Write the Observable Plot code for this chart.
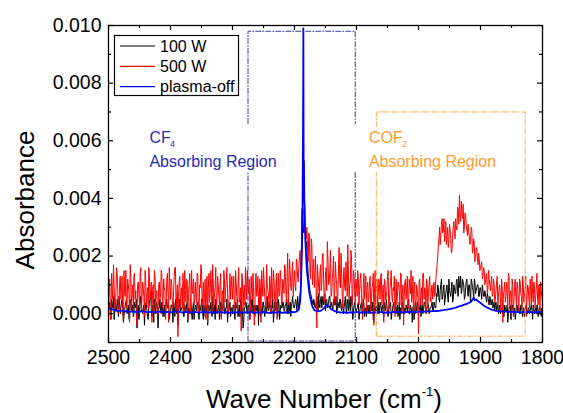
<!DOCTYPE html>
<html><head><meta charset="utf-8">
<script src="https://cdn.jsdelivr.net/npm/d3@7"></script>
<script src="https://cdn.jsdelivr.net/npm/@observablehq/plot@0.6"></script>
<style>body{margin:0;background:#fff;} #chart{width:563px;height:413px;}</style>
</head><body><div id="chart"></div>
<script>
// Sampling grids of the 100 W / 500 W spectra (cm^-1): even points from 2500, odd points from 2499, step 2
const gridStep = 2, evenStart = 2500, oddStart = 2499;
// 500 W absorbance at 2500, 2498, ... 1800 (units of 1e-4)
const abs500W = [
 3, 12, -1, 9, 17, 2, 8, 14, 0, 11,
 5, 13, -2, 7, 15, 4, 10, -3, 12, 6,
 1, 14, 8, -4, 11, 3, 16, 5, 9, -1,
 12, 6, 2, 13, 7, -3, 10, 15, 4, 8,
 0, 11, 6, 14, 3, 9, -2, 12, 7, 16,
 5, 10, 2, 13, 16, 6, -8, 11, 3, 9,
 14, 1, 8, 12, -2, 10, 5, 15, 7, 3,
 11, 4, 13, 0, 9, 16, 6, 2, 12, 8,
 -3, 14, 7, 10, 17, 3, 9, 1, 13, 6,
 11, -2, 8, 15, 4, 12, 7, 0, 14, 9,
 5, 13, 2, 10, -1, 16, 6, -6, 12, 8,
 3, 11, 15, 7, -2, 13, 5, 9, 1, 14,
 8, 4, 12, -3, 10, 16, 6, 2, 11, 7,
 13, 0, 9, 15, 5, 10, -2, 14, 7, 12,
 4, 11, 17, 8, 13, 3, 19, 9, 14, 6,
 15, 8, 18, 11, 20, 14, 25, 34, 37, 28,
 30, 18, 27, 12, 24, 15, 9, 20, -5, 13,
 6, 17, 10, 21, 4, 14, 8, 19, 11, 22,
 7, 15, 3, 18, 10, 6, 23, 9, 14, 2,
 16, 8, 12, 24, 5, 11, 20, 7, 13, 4,
 10, 15, 3, 12, 7, -2, 14, 9, 1, 11,
 6, 13, 4, 10, -4, 15, 8, 2, 12, 5,
 14, 7, -3, 11, 6, 13, 1, 9, 15, 4,
 8, -1, 12, 6, 10, 3, 14, 7, -4, 11,
 5, 13, 2, 9, 15, 6, -2, 11, 4, 8,
 -7, 12, 6, 3, 14, 9, 0, 11, 7, 13,
 4, 10, 8, 6, 12, 17, 23, 30, 27, 33,
 29, 25, 32, 27, 23, 31, 26, 22, 30, 28,
 33, 29, 36, 41, 32, 35, 38, 30, 34, 29,
 31, 27, 25, 29, 22, 24, 20, 23, 17, 19,
 16, 18, 13, 15, 11, 14, 9, 12, 8, 13,
 7, 10, 5, 11, 3, 9, 6, 12, -3, 8,
 4, 11, 2, 13, 7, -2, 10, 5, 12, 3,
 9, 1, 11, 6, 13, 4, 8, -1, 10, 5,
 12, 3, 7, 11, 2, 9, 5, 10, 1, 8,
 4
];
// 500 W absorbance at 2499, 2497, ... 1801 (units of 1e-4)
const abs500Wodd = [
 8, -2, 14, 5, 10, 1, 16, 7, 3, 13,
 9, 0, 15, 6, 2, 12, 7, 17, 4, 10,
 13, 5, -2, 10, 7, 14, 1, 11, 6, 15,
 3, 9, 16, 5, 11, 8, 1, 13, 7, -1,
 10, 5, 15, 2, 12, 8, 4, 14, -3, 9,
 12, 3, 8, 16, 1, 10, 6, 13, 7, 2,
 9, 15, 4, 11, 7, 14, 0, 8, 12, 5,
 6, 14, 2, 10, 17, 3, 11, 7, -2, 13,
 9, 4, 15, 1, 11, 7, 16, 5, 10, 3,
 14, 6, 1, 12, 9, 16, 3, 10, 5, 13,
 8, 2, 15, 6, 11, 4, 9, 14, 1, 10,
 16, 5, 9, 12, 3, 8, 14, -4, 11, 6,
 13, 2, 9, 15, 6, 11, 4, 17, 8, 3,
 10, 16, 5, 12, 1, 14, 9, 6, 15, 3,
 12, 7, 16, 4, 21, 10, 15, 8, 18, 12,
 10, 19, 13, 16, 22, 17, 31, 36, 33, 26,
 22, 28, 14, 26, 10, 19, 13, 7, 17, 9,
 14, 8, 20, 12, 7, 16, 25, 10, 15, 6,
 12, 20, 8, 13, 4, 17, 11, 21, 6, 14,
 9, 18, 6, 13, 10, 22, 3, 15, 8, 12,
 6, 12, 8, 14, 2, 10, 5, 13, 9, 4,
 11, 1, 9, 14, 7, 3, 12, 6, 10, 13,
 3, 10, 12, 5, 8, 15, 4, 11, 6, 9,
 13, 5, 3, 11, 8, 14, 1, 10, 6, 12,
 9, 2, 12, 7, 4, 13, 8, 0, 10, 5,
 11, 3, 9, 14, 5, 8, 12, 2, 10, 6,
 9, 5, 11, 7, 14, 20, 26, 24, 31, 28,
 33, 27, 24, 30, 25, 29, 21, 27, 32, 26,
 30, 37, 31, 34, 39, 33, 28, 35, 31, 27,
 28, 24, 30, 21, 26, 18, 22, 19, 21, 15,
 17, 12, 16, 10, 13, 7, 15, 10, 11, 6,
 12, 4, 8, 13, 6, 10, 1, 9, 7, 11,
 6, 9, 14, 3, 8, 12, -1, 9, 6, 11,
 4, 12, 7, 2, 10, 7, 13, 5, 9, 2,
 8, 13, 4, 10, 6, 14, 3, 9, 11, 6
];
// 100 W absorbance at 2500, 2498, ... 1800 (units of 1e-4)
const abs100W = [
 1, 4, -2, 3, 6, 0, 2, 5, -1, 3,
 2, 5, -3, 1, 4, 0, 3, -2, 5, 1,
 -1, 4, 2, -5, 3, 0, 6, 1, 2, -4,
 3, 1, -2, 4, 8, -1, 2, 5, 0, 3,
 -5, 2, 1, 4, -1, 3, 0, 5, 2, -2,
 1, 3, -3, 2, 5, 0, -4, 3, 1, 2,
 4, -1, 2, 3, -3, 1, 5, 0, 2, -2,
 3, 1, 4, -2, 2, 5, 0, 3, -1, 2,
 -4, 3, 1, 2, 6, 0, -2, 4, 1, 3,
 2, -1, 3, 5, 0, 2, -3, 1, 4, 2,
 0, 3, -2, 2, 5, 1, -1, 4, 2, -3,
 2, 4, 0, 3, -2, 1, 5, 2, -1, 3,
 1, -4, 3, 2, 0, 4, -1, 2, 6, 1,
 3, 0, 2, -3, 4, 1, 2, 5, -2, 3,
 2, 4, 1, 3, 0, 5, 2, -1, 4, 3,
 2, 5, 1, 4, 3, 8, 36, 30, 33, 22,
 25, 14, 10, 7, 5, 3, 4, 2, 6, 1,
 3, 5, 2, 6, 4, 1, 5, 3, 6, 2,
 4, 1, 5, 3, 0, 4, 2, 5, 1, 3,
 2, 6, 0, 3, 5, 1, 4, -2, 3, 2,
 1, 3, -2, 2, 4, 0, 3, 1, -1, 2,
 3, 0, 2, 4, -3, 1, 3, 2, 0, 4,
 1, 3, -1, 2, 5, 0, 2, 3, -2, 1,
 4, 2, 0, 3, 1, -2, 2, 4, 1, 0,
 3, 1, 5, 0, 2, -3, 3, 1, 2, 4,
 0, 2, -1, 3, 1, 4, 0, 2, 3, 1,
 2, 4, 1, 3, 2, 6, 9, 4, 10, 5,
 8, 3, 7, 10, 4, 8, 6, 11, 5, 9,
 7, 12, 6, 10, 13, 8, 11, 5, 9, 12,
 6, 10, 4, 11, 8, 12, 7, 9, 10, 6,
 9, 5, 8, 6, 7, 4, 6, 3, 5, 4,
 2, 4, 3, 1, 3, 2, 0, 2, 3, -1,
 2, 1, -3, 2, 3, 0, 2, 1, -2, 3,
 1, 2, 0, 3, -1, 2, 1, 3, 0, 2,
 1, 3, -2, 2, 1, 0, 3, 1, 2, -1,
 1
];
// 100 W absorbance at 2499, 2497, ... 1801 (units of 1e-4)
const abs100Wodd = [
 3, 0, 5, 2, -2, 4, 1, 3, 6, 0,
 4, 2, -1, 3, 5, 1, -2, 4, 2, 3,
 0, 3, 5, 1, -2, 4, 2, 0, 3, 1,
 4, -1, 2, 5, 1, 3, -3, 2, 4, 1,
 2, 5, 0, 3, 1, -1, 4, 2, 3, 0,
 3, 1, 4, -1, 2, 3, 0, 5, 1, 2,
 -1, 3, 1, 4, 2, 0, 3, -2, 4, 1,
 2, 4, 0, 3, 1, 5, -2, 2, 3, 0,
 3, 1, 4, -1, 2, 3, 5, 0, 2, -2,
 4, 1, 3, 0, 2, 5, 1, 3, -1, 2,
 3, 0, 4, 2, -1, 3, 5, 1, -5, 2,
 4, 1, 3, -1, 2, 5, 0, 3, 2, 1,
 3, 5, -1, 2, 4, 1, 3, 0, 2, 4,
 1, 3, 5, 0, 2, 4, -1, 3, 1, 2,
 4, 1, 3, 5, 2, 0, 4, 3, 6, 2,
 4, 3, 6, 2, 7, 20, 37, 28, 31, 24,
 18, 12, 8, 6, 4, 5, 2, 4, 3, 7,
 2, 6, 4, 3, 7, 5, 2, 4, 6, 3,
 2, 5, 3, 6, 1, 3, 5, 2, 4, 0,
 4, 2, 5, 1, 3, 6, 2, 0, 4, 1,
 2, 4, 0, 3, 1, 5, -1, 2, 3, 0,
 2, 4, 1, -2, 3, 2, 0, 4, 1, 3,
 2, 0, 4, 1, 3, -1, 2, 4, 0, 3,
 1, 3, 2, -1, 4, 2, 0, 3, 2, 1,
 2, 4, 0, 3, 1, 2, -2, 4, 1, 3,
 1, 3, 2, 0, 4, 2, 1, 3, 0, 2,
 3, 1, 4, 2, 7, 10, 5, 8, 12, 6,
 10, 5, 9, 6, 12, 7, 9, 4, 10, 7,
 11, 8, 13, 9, 7, 12, 10, 6, 11, 8,
 10, 7, 12, 9, 5, 11, 8, 10, 6, 9,
 7, 10, 6, 8, 5, 7, 4, 6, 3, 5,
 3, 1, 4, 2, 0, 3, 1, 2, -1, 3,
 1, 3, 0, 2, -2, 3, 1, 2, 0, 3,
 2, 0, 3, 1, 2, -1, 3, 1, 2, 0,
 2, 1, 3, 0, 2, 3, -1, 2, 1, 2
];
// plasma-off spectrum: wavenumbers (cm^-1) and absorbance (units of 1e-4)
const offWn = [2500,2495,2490,2485,2480,2475,2470,2465,2460,2455,2450,2445,2440,2435,2430,2425,2420,2415,2410,2405,
 2400,2395,2390,2385,2380,2375,2370,2365,2360,2355,2350,2345,2340,2335,2330,2325,2320,2315,2310,2305,
 2300,2295,2290,2285,2280,2275,2270,2265,2260,2255,2250,2245,2240,2235,2230,2225,2220,2215,2210,2205,
 2200,2196,2193,2191,2190,2189,2188,2187,2186.3,2185.7,2185.2,2184.7,2184.2,2183.6,2183,2182.3,2181.5,2180.5,2179.5,2178.5,
 2177.5,2176.5,2175,2173.5,2172,2170,2168,2165,2162,2158,2155,2152,2149,2147,2145,2142,2138,2134,2130,2125,
 2120,2115,2110,2105,2100,2095,2090,2085,2080,2075,2070,2065,2060,2055,2050,2045,2040,2035,2030,2025,
 2020,2015,2010,2005,2000,1995,1990,1985,1980,1975,1970,1965,1960,1955,1950,1945,1940,1935,1930,1925,
 1920,1916,1913,1911,1909,1907,1904,1900,1896,1892,1888,1884,1880,1875,1870,1865,1860,1855,1850,1845,
 1840,1835,1830,1825,1820,1815,1810,1805,1800];
const offAbs = [2.0,1.6,1.2,0.9,1.1,0.7,0.9,0.6,0.8,0.5,0.7,0.9,0.6,0.5,0.7,0.4,0.6,0.8,0.5,0.6,
 0.4,0.7,0.9,0.6,0.4,0.6,0.5,0.3,0.6,0.4,0.5,0.7,0.4,0.5,0.3,0.5,0.6,0.4,0.5,0.3,
 0.5,0.4,0.6,0.3,0.5,0.4,0.6,0.3,0.5,0.4,0.6,0.4,0.3,0.5,0.4,0.6,0.3,0.5,0.4,0.6,
 0.5,0.8,1.5,4,8,14,22,38,62,99,48,53,40,37,30,25,21,17,14,12,
 10,8,6,4.5,3,2,1.3,0.9,0.8,1.0,1.4,2.0,2.8,3.2,2.6,1.8,1.2,0.8,0.6,0.4,
 0.5,0.3,0.5,0.4,0.6,0.3,0.5,0.4,0.6,0.3,0.5,0.4,0.6,0.3,0.5,0.4,0.6,0.5,0.7,0.4,
 0.6,0.5,0.7,0.5,0.6,0.8,0.7,0.9,0.8,1.0,0.9,1.1,1.2,1.4,1.6,1.8,2.1,2.5,2.8,3.2,
 3.6,4.0,4.8,5.5,4.6,5.0,4.3,3.8,3.0,2.5,2.0,1.6,1.3,1.0,0.9,0.7,0.8,0.6,0.7,0.5,
 0.6,0.4,0.6,0.5,0.6,0.4,0.5,0.6,0.5];

const seriesNames = ["100 W", "500 W", "plasma-off"];
const seriesColors = ["#000000", "#ff0000", "#0000ff"];

const xTicksMajor = [2500, 2400, 2300, 2200, 2100, 2000, 1900, 1800];
const xTicksMinor = [2450, 2350, 2250, 2150, 2050, 1950, 1850];
const yTicksMajor = [0, 0.002, 0.004, 0.006, 0.008, 0.010];
const yTicksMinor = [-0.001, 0.001, 0.003, 0.005, 0.007, 0.009];

// Marked regions (data units)
const cf4Region = {left: 2275, right: 2102, top: 0.0098, bottom: -0.00095, gapLow: 0.0049, gapHigh: 0.0066};
const cof2Region = {left: 2068, right: 1828, top: 0.0070, bottom: -0.00078, gapLow: 0.0049, gapHigh: 0.0065};
const cf4Label = {x: 2434, y1: 0.00591, y2: 0.00508, main: "CF", sub: "4", second: "Absorbing Region"};
const cof2Label = {x: 2080, y1: 0.00591, y2: 0.00508, main: "COF", sub: "2", second: "Absorbing Region"};
const cf4Color = "#2a2ab4", cf4BoxColor = "#3a3aa8";
const cof2Color = "#ff9a2e", cof2BoxColor = "#ffaa4d";

const toRows = (vals, start) => vals.map((v, i) => ({x: start - gridStep * i, y: v * 1e-4}));
const byWn = (a, b) => b.x - a.x;
const rows100 = [...toRows(abs100W, evenStart), ...toRows(abs100Wodd, oddStart)].sort(byWn);
const rows500 = [...toRows(abs500W, evenStart), ...toRows(abs500Wodd, oddStart)].sort(byWn);
const rowsOff = offWn.map((w, i) => ({x: w, y: offAbs[i] * 1e-4}));

const r = cf4Region, c = cof2Region;
const cf4Segs = [
  {s: 0, x: r.left, y: r.bottom}, {s: 0, x: r.left, y: r.gapLow},
  {s: 1, x: r.left, y: r.gapHigh}, {s: 1, x: r.left, y: r.top}, {s: 1, x: r.right, y: r.top}, {s: 1, x: r.right, y: r.gapHigh},
  {s: 2, x: r.right, y: r.gapLow}, {s: 2, x: r.right, y: r.bottom}, {s: 2, x: r.left, y: r.bottom}
];
const cof2Segs = [
  {s: 0, x: c.left, y: c.bottom}, {s: 0, x: c.left, y: c.gapLow},
  {s: 1, x: c.left, y: c.gapHigh}, {s: 1, x: c.left, y: c.top}, {s: 1, x: c.right, y: c.top}, {s: 1, x: c.right, y: c.bottom}, {s: 1, x: c.left, y: c.bottom}
];

const W = 563, H = 413, mT = 25, mB = 71, mL = 108, mR = 21;
const plotH = H - mT - mB, plotW = W - mL - mR;
const font = "'Liberation Sans', Arial, Helvetica, sans-serif";

const chart = Plot.plot({
  width: W, height: H,
  marginTop: mT, marginBottom: mB, marginLeft: mL, marginRight: mR,
  style: {fontFamily: font, background: "#fff", color: "#000"},
  x: {domain: [2500, 1800]},
  y: {domain: [-0.001, 0.010]},
  marks: [
    Plot.line(rows100, {x: "x", y: "y", stroke: seriesColors[0], strokeWidth: 1, clip: true}),
    Plot.line(rows500, {x: "x", y: "y", stroke: seriesColors[1], strokeWidth: 1, clip: true}),
    Plot.line(rowsOff, {x: "x", y: "y", stroke: seriesColors[2], strokeWidth: 1.8, clip: true}),
    Plot.line(cf4Segs, {x: "x", y: "y", z: "s", stroke: cf4BoxColor, strokeWidth: 1, strokeDasharray: "5,2,1,2"}),
    Plot.line(cof2Segs, {x: "x", y: "y", z: "s", stroke: cof2BoxColor, strokeWidth: 1, strokeDasharray: "5,2,1,2"}),
    Plot.text([cf4Label], {x: "x", y: "y1", text: "main", fill: cf4Color, fontSize: 16, textAnchor: "start", lineAnchor: "bottom"}),
    Plot.text([cf4Label], {x: "x", y: "y1", text: "sub", fill: cf4Color, fontSize: 9, textAnchor: "start", lineAnchor: "bottom", dx: 20.5, dy: 4}),
    Plot.text([cf4Label], {x: "x", y: "y2", text: "second", fill: cf4Color, fontSize: 16, textAnchor: "start", lineAnchor: "bottom"}),
    Plot.text([cof2Label], {x: "x", y: "y1", text: "main", fill: cof2Color, fontSize: 16, textAnchor: "start", lineAnchor: "bottom"}),
    Plot.text([cof2Label], {x: "x", y: "y1", text: "sub", fill: cof2Color, fontSize: 9, textAnchor: "start", lineAnchor: "bottom", dx: 33, dy: 4}),
    Plot.text([cof2Label], {x: "x", y: "y2", text: "second", fill: cof2Color, fontSize: 16, textAnchor: "start", lineAnchor: "bottom"}),
    Plot.frame({stroke: "#000", strokeWidth: 1.3}),
    Plot.tickX(xTicksMajor, {x: d => d, insetTop: plotH - 5, strokeWidth: 1.2}),
    Plot.tickX(xTicksMinor, {x: d => d, insetTop: plotH - 3, strokeWidth: 1.2}),
    Plot.tickX(xTicksMajor, {x: d => d, insetBottom: plotH - 5, strokeWidth: 1.2}),
    Plot.tickX(xTicksMinor, {x: d => d, insetBottom: plotH - 3, strokeWidth: 1.2}),
    Plot.tickY(yTicksMajor, {y: d => d, insetRight: plotW - 5, strokeWidth: 1.2}),
    Plot.tickY(yTicksMinor, {y: d => d, insetRight: plotW - 3, strokeWidth: 1.2}),
    Plot.tickY(yTicksMajor, {y: d => d, insetLeft: plotW - 5, strokeWidth: 1.2}),
    Plot.tickY(yTicksMinor, {y: d => d, insetLeft: plotW - 3, strokeWidth: 1.2}),
    Plot.axisX({ticks: xTicksMajor, tickSize: 0, tickPadding: 8, fontSize: 19.5, label: null, tickFormat: d3.format("d")}),
    Plot.axisY({ticks: yTicksMajor, tickSize: 0, tickPadding: 7, fontSize: 19.5, label: null, tickFormat: d3.format(".3f")})
  ]
});
document.getElementById("chart").appendChild(chart);

// Axis titles and legend
const svg = d3.select(chart);
svg.append("text").attr("transform", "translate(34,200) rotate(-90)")
  .attr("text-anchor", "middle").attr("font-size", 26).attr("fill", "#000").text("Absorbance");
const xt = svg.append("text").attr("x", 206).attr("y", 408).attr("text-anchor", "start")
  .attr("font-size", 26).attr("fill", "#000");
xt.append("tspan").text("Wave Number (cm");
xt.append("tspan").attr("font-size", 13).attr("dy", -12).text("-1");
xt.append("tspan").attr("dy", 12).text(")");

const lg = svg.append("g").attr("text-anchor", "start");
lg.append("rect").attr("x", 114.5).attr("y", 35.5).attr("width", 124).attr("height", 60)
  .attr("fill", "#fff").attr("stroke", "#000").attr("stroke-width", 1.2);
seriesNames.forEach((name, i) => {
  const y = 46 + i * 20.3;
  lg.append("line").attr("x1", 120).attr("x2", 155).attr("y1", y).attr("y2", y)
    .attr("stroke", seriesColors[i]).attr("stroke-width", 1.2);
  lg.append("text").attr("x", 160).attr("y", y).attr("dy", "0.36em").attr("font-size", 16)
    .attr("text-anchor", "start").attr("fill", "#000").text(name);
});
</script>
</body></html>
